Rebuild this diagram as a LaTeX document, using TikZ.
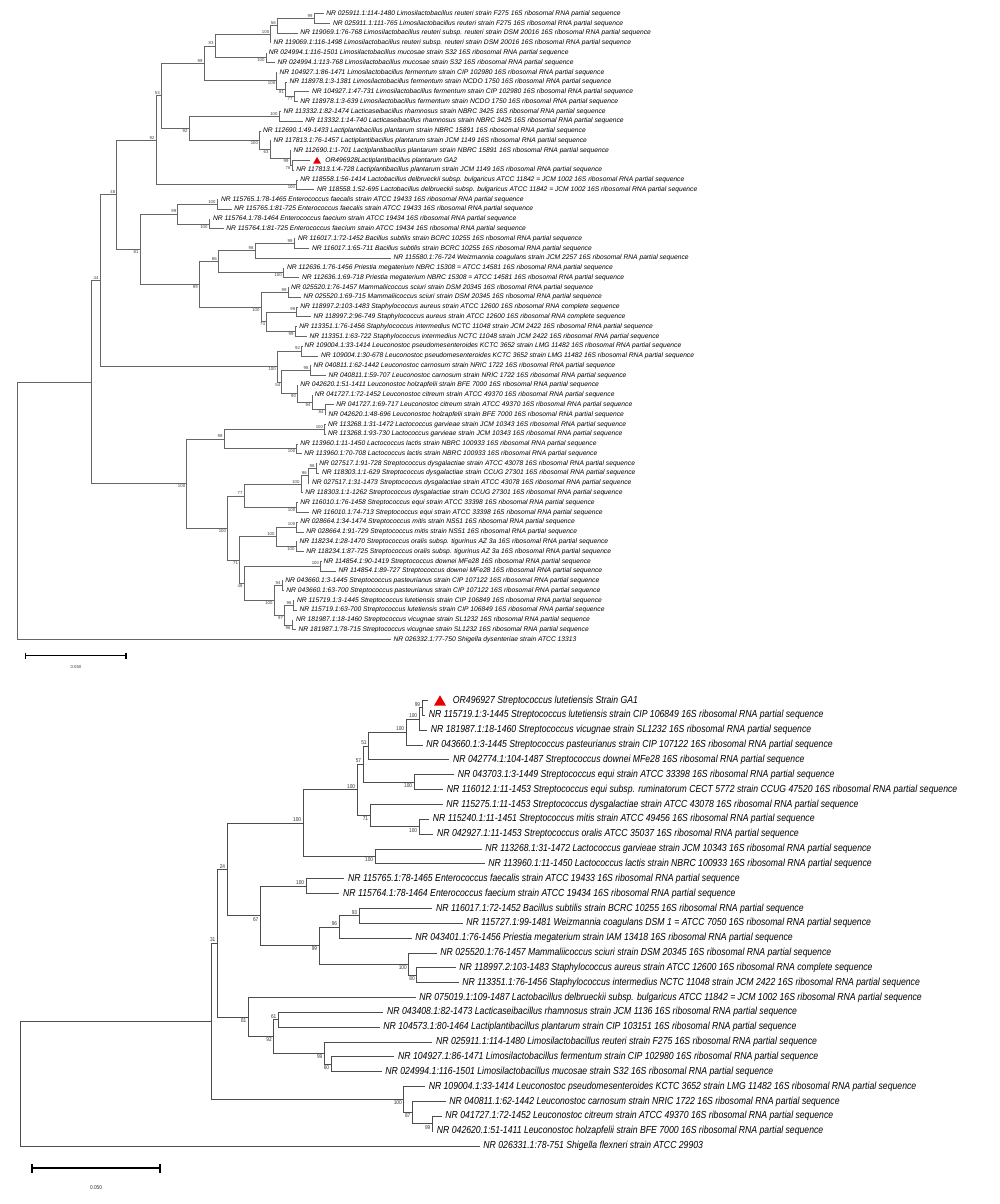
\documentclass[tikz,border=0pt]{standalone}
\usepackage{fontspec}
\newfontfamily\topfont{Liberation Sans}
\newfontfamily\botfont[FakeStretch=0.85]{Liberation Sans}
\usetikzlibrary{calc,shapes.geometric}
\definecolor{trired}{RGB}{230,0,0}
% junction: name, x, first child, last child (y = middle of the two)
\newcommand{\junc}[4]{\path let \p1=(#3), \p2=(#4) in coordinate (#1) at (#2pt,{(\y1+\y2)/2});}
\newcommand{\pseq}{16S ribosomal RNA partial sequence}
\begin{document}
\begin{tikzpicture}[x=1pt,y=-1pt]
  \tikzstyle{every edge}=[draw,to path={|- (\tikztotarget)}]
  \tikzstyle{tl}=[anchor=west,inner xsep=2.5pt,inner ysep=0pt,text=black,font=\topfont\itshape\fontsize{6.7}{7}\selectfont]
  \tikzstyle{bl}=[anchor=west,inner xsep=3.5pt,inner ysep=0pt,text=black,font=\botfont\itshape\fontsize{10.2}{11}\selectfont]
  \tikzstyle{tba}=[anchor=south east,inner sep=0pt,xshift=-1.2pt,yshift=0.8pt,text=black!75,font=\topfont\fontsize{4.3}{4.5}\selectfont]
  \tikzstyle{tbb}=[anchor=north east,inner sep=0pt,xshift=-1.2pt,yshift=-0.8pt,text=black!75,font=\topfont\fontsize{4.3}{4.5}\selectfont]
  \tikzstyle{bba}=[anchor=south east,inner sep=0pt,xshift=-1.5pt,yshift=1pt,text=black!80,font=\botfont\fontsize{5.6}{6}\selectfont]
  \tikzstyle{bbb}=[anchor=north east,inner sep=0pt,xshift=-1.5pt,yshift=-1pt,text=black!80,font=\botfont\fontsize{5.6}{6}\selectfont]
  \tikzstyle{tri}=[regular polygon,regular polygon sides=3,fill=trired,inner sep=0pt]

  \fill[white] (0,0) rectangle (1000,1204);
  \useasboundingbox (0,0) rectangle (1000,1204);

  % ---------------- upper tree ----------------
  \begin{scope}[color=black!60,line width=0.7pt]
  \node[tl] (t1) at (323.5,13.6) {NR 025911.1:114-1480 Limosilactobacillus reuteri strain F275 \pseq};
  \node[tl] (t2) at (330.2,23.38) {NR 025911.1:111-765 Limosilactobacillus reuteri strain F275 \pseq};
  \node[tl] (t3) at (297.5,33.16) {NR 119069.1:76-768 Limosilactobacillus reuteri subsp. reuteri strain DSM 20016 \pseq};
  \node[tl] (t4) at (270.7,42.94) {NR 119069.1:116-1498 Limosilactobacillus reuteri subsp. reuteri strain DSM 20016 \pseq};
  \node[tl] (t5) at (266,52.72) {NR 024994.1:116-1501 Limosilactobacillus mucosae strain S32 \pseq};
  \node[tl] (t6) at (274.8,62.5) {NR 024994.1:113-768 Limosilactobacillus mucosae strain S32 \pseq};
  \node[tl] (t7) at (276.7,72.28) {NR 104927.1:86-1471 Limosilactobacillus fermentum strain CIP 102980 \pseq};
  \node[tl] (t8) at (286.8,82.06) {NR 118978.1:3-1381 Limosilactobacillus fermentum strain NCDO 1750 \pseq};
  \node[tl] (t9) at (309.2,91.84) {NR 104927.1:47-731 Limosilactobacillus fermentum strain CIP 102980 \pseq};
  \node[tl] (t10) at (297.5,101.62) {NR 118978.1:3-639 Limosilactobacillus fermentum strain NCDO 1750 \pseq};
  \node[tl] (t11) at (280.8,111.4) {NR 113332.1:82-1474 Lacticaseibacillus rhamnosus strain NBRC 3425 \pseq};
  \node[tl] (t12) at (302.5,121.18) {NR 113332.1:14-740 Lacticaseibacillus rhamnosus strain NBRC 3425 \pseq};
  \node[tl] (t13) at (260.2,130.96) {NR 112690.1:49-1433 Lactiplantibacillus plantarum strain NBRC 15891 \pseq};
  \node[tl] (t14) at (270.8,140.74) {NR 117813.1:76-1457 Lactiplantibacillus plantarum strain JCM 1149 \pseq};
  \node[tl] (t15) at (290.8,150.52) {NR 112690.1:1-701 Lactiplantibacillus plantarum strain NBRC 15891 \pseq};
  \coordinate (t16) at (310,160.3);
  \node[tri,minimum size=9pt] (tri16) at (317,161.4) {};
  \node[tl] (t16txt) at (322.5,160.3) {OR496928Lactiplantibacillus plantarum GA2};
  \node[tl] (t17) at (293.5,170.08) {NR 117813.1:4-728 Lactiplantibacillus plantarum strain JCM 1149 \pseq};
  \node[tl] (t18) at (297.5,179.86) {NR 118558.1:56-1414 Lactobacillus delbrueckii subsp. bulgaricus ATCC 11842 = JCM 1002 \pseq};
  \node[tl] (t19) at (314.2,189.64) {NR 118558.1:52-695 Lactobacillus delbrueckii subsp. bulgaricus ATCC 11842 = JCM 1002 \pseq};
  \node[tl] (t20) at (218.2,199.42) {NR 115765.1:78-1465 Enterococcus faecalis strain ATCC 19433 \pseq};
  \node[tl] (t21) at (231.5,209.2) {NR 115765.1:81-725 Enterococcus faecalis strain ATCC 19433 \pseq};
  \node[tl] (t22) at (210.2,218.98) {NR 115764.1:78-1464 Enterococcus faecium strain ATCC 19434 \pseq};
  \node[tl] (t23) at (223.5,228.76) {NR 115764.1:81-725 Enterococcus faecium strain ATCC 19434 \pseq};
  \node[tl] (t24) at (295.2,238.54) {NR 116017.1:72-1452 Bacillus subtilis strain BCRC 10255 \pseq};
  \node[tl] (t25) at (309.2,248.32) {NR 116017.1:65-711 Bacillus subtilis strain BCRC 10255 \pseq};
  \node[tl] (t26) at (390.8,258.1) {NR 115580.1:76-724 Weizmannia coagulans strain JCM 2257 \pseq};
  \node[tl] (t27) at (284.2,267.88) {NR 112636.1:76-1456 Priestia megaterium NBRC 15308 = ATCC 14581 \pseq};
  \node[tl] (t28) at (299.2,277.66) {NR 112636.1:69-718 Priestia megaterium NBRC 15308 = ATCC 14581 \pseq};
  \node[tl] (t29) at (288.3,287.44) {NR 025520.1:76-1457 Mammaliicoccus sciuri strain DSM 20345 \pseq};
  \node[tl] (t30) at (300.8,297.22) {NR 025520.1:69-715 Mammaliicoccus sciuri strain DSM 20345 \pseq};
  \node[tl] (t31) at (297.5,307) {NR 118997.2:103-1483 Staphylococcus aureus strain ATCC 12600 16S ribosomal RNA complete sequence};
  \node[tl] (t32) at (310.8,316.78) {NR 118997.2:96-749 Staphylococcus aureus strain ATCC 12600 16S ribosomal RNA complete sequence};
  \node[tl] (t33) at (296.5,326.56) {NR 113351.1:76-1456 Staphylococcus intermedius NCTC 11048 strain JCM 2422 \pseq};
  \node[tl] (t34) at (306.8,336.34) {NR 113351.1:63-722 Staphylococcus intermedius NCTC 11048 strain JCM 2422 \pseq};
  \node[tl] (t35) at (301.7,346.12) {NR 109004.1:33-1414 Leuconostoc pseudomesenteroides KCTC 3652 strain LMG 11482 \pseq};
  \node[tl] (t36) at (318.2,355.9) {NR 109004.1:30-678 Leuconostoc pseudomesenteroides KCTC 3652 strain LMG 11482 \pseq};
  \node[tl] (t37) at (310.8,365.68) {NR 040811.1:62-1442 Leuconostoc carnosum strain NRIC 1722 \pseq};
  \node[tl] (t38) at (325.8,375.46) {NR 040811.1:59-707 Leuconostoc carnosum strain NRIC 1722 \pseq};
  \node[tl] (t39) at (297.5,385.24) {NR 042620.1:51-1411 Leuconostoc holzapfelii strain BFE 7000 \pseq};
  \node[tl] (t40) at (312,395.02) {NR 041727.1:72-1452 Leuconostoc citreum strain ATCC 49370 \pseq};
  \node[tl] (t41) at (333.5,404.8) {NR 041727.1:69-717 Leuconostoc citreum strain ATCC 49370 \pseq};
  \node[tl] (t42) at (325.8,414.58) {NR 042620.1:48-696 Leuconostoc holzapfelii strain BFE 7000 \pseq};
  \node[tl] (t43) at (325.2,424.36) {NR 113268.1:31-1472 Lactococcus garvieae strain JCM 10343 \pseq};
  \node[tl] (t44) at (325.2,434.14) {NR 113268.1:93-730 Lactococcus garvieae strain JCM 10343 \pseq};
  \node[tl] (t45) at (297.5,443.92) {NR 113960.1:11-1450 Lactococcus lactis strain NBRC 100933 \pseq};
  \node[tl] (t46) at (301.5,453.7) {NR 113960.1:70-708 Lactococcus lactis strain NBRC 100933 \pseq};
  \node[tl] (t47) at (316.5,463.48) {NR 027517.1:91-728 Streptococcus dysgalactiae strain ATCC 43078 \pseq};
  \node[tl] (t48) at (319.2,473.26) {NR 118303.1:1-629 Streptococcus dysgalactiae strain CCUG 27301 \pseq};
  \node[tl] (t49) at (309.2,483.04) {NR 027517.1:31-1473 Streptococcus dysgalactiae strain ATCC 43078 \pseq};
  \node[tl] (t50) at (302.5,492.82) {NR 118303.1:1-1262 Streptococcus dysgalactiae strain CCUG 27301 \pseq};
  \node[tl] (t51) at (297.5,502.6) {NR 116010.1:76-1458 Streptococcus equi strain ATCC 33398 \pseq};
  \node[tl] (t52) at (309.2,512.38) {NR 116010.1:74-713 Streptococcus equi strain ATCC 33398 \pseq};
  \node[tl] (t53) at (297.5,522.16) {NR 028664.1:34-1474 Streptococcus mitis strain NS51 \pseq};
  \node[tl] (t54) at (303.5,531.94) {NR 028664.1:91-729 Streptococcus mitis strain NS51 \pseq};
  \node[tl] (t55) at (296.8,541.72) {NR 118234.1:28-1470 Streptococcus oralis subsp. tigurinus AZ 3a \pseq};
  \node[tl] (t56) at (303.5,551.5) {NR 118234.1:87-725 Streptococcus oralis subsp. tigurinus AZ 3a \pseq};
  \node[tl] (t57) at (320.8,561.28) {NR 114854.1:90-1419 Streptococcus downei MFe28 \pseq};
  \node[tl] (t58) at (335.8,571.06) {NR 114854.1:89-727 Streptococcus downei MFe28 \pseq};
  \node[tl] (t59) at (282.5,580.84) {NR 043660.1:3-1445 Streptococcus pasteurianus strain CIP 107122 \pseq};
  \node[tl] (t60) at (283.5,590.62) {NR 043660.1:63-700 Streptococcus pasteurianus strain CIP 107122 \pseq};
  \node[tl] (t61) at (294.2,600.4) {NR 115719.1:3-1445 Streptococcus lutetiensis strain CIP 106849 \pseq};
  \node[tl] (t62) at (296.8,610.18) {NR 115719.1:63-700 Streptococcus lutetiensis strain CIP 106849 \pseq};
  \node[tl] (t63) at (293.2,619.96) {NR 181987.1:18-1460 Streptococcus vicugnae strain SL1232 \pseq};
  \node[tl] (t64) at (295.8,629.74) {NR 181987.1:78-715 Streptococcus vicugnae strain SL1232 \pseq};
  \node[tl] (t65) at (390.8,639.52) {NR 026332.1:77-750 Shigella dysenteriae strain ATCC 13313};

  % inner nodes
  \junc{N14}{314}{t1}{t2}
  \junc{N13}{277.3}{N14}{t3}
  \junc{N11}{270.7}{N13}{t4}
  \junc{N12}{266}{t5}{t6}
  \junc{N9}{215}{N11}{N12}
  \junc{N16}{294}{t9}{t10}
  \junc{N15}{285.5}{t8}{N16}
  \junc{N10}{276.7}{t7}{N15}
  \junc{N7}{204}{N9}{N10}
  \junc{N17}{279}{t11}{t12}
  \junc{N21}{292}{t16}{t17}
  \junc{N20}{290}{t15}{N21}
  \junc{N19}{270}{t14}{N20}
  \junc{N18}{259.5}{t13}{N19}
  \junc{N8}{189}{N17}{N18}
  \junc{N6}{161.3}{N7}{N8}
  \junc{Ndel}{296.5}{t18}{t19}
  \junc{N4}{156}{N6}{Ndel}
  \junc{N24}{217}{t20}{t21}
  \junc{N25}{209}{t22}{t23}
  \junc{N22}{177.7}{N24}{N25}
  \junc{N29}{294}{t24}{t25}
  \junc{N28}{255}{N29}{t26}
  \junc{N27}{283.3}{t27}{t28}
  \junc{N26}{218.3}{N28}{N27}
  \junc{N31}{288}{t29}{t30}
  \junc{N32}{296.7}{t31}{t32}
  \junc{N33}{295}{t33}{t34}
  \junc{N35}{266.5}{N32}{N33}
  \junc{N34}{261}{N31}{N35}
  \junc{N23}{199.3}{N26}{N34}
  \junc{N5}{140}{N22}{N23}
  \junc{N3}{116.7}{N4}{N5}
  \junc{N36}{301.5}{t35}{t36}
  \junc{N38}{310}{t37}{t38}
  \junc{N42}{325}{t41}{t42}
  \junc{N41}{312}{t40}{N42}
  \junc{N40}{297.5}{t39}{N41}
  \junc{Nb}{281.7}{N38}{N40}
  \junc{Nleu}{277.3}{N36}{Nb}
  \junc{N2}{100}{N3}{Nleu}
  \junc{Ngarv}{324.5}{t43}{t44}
  \junc{Nlact}{296.7}{t45}{t46}
  \junc{NLac}{224}{Ngarv}{Nlact}
  \junc{N48}{316}{t47}{t48}
  \junc{N47}{308.3}{N48}{t49}
  \junc{N46}{301}{N47}{t50}
  \junc{Nequi}{296.7}{t51}{t52}
  \junc{N44}{244}{N46}{Nequi}
  \junc{Nmitis}{296.7}{t53}{t54}
  \junc{Noral}{296}{t55}{t56}
  \junc{N49}{276}{Nmitis}{Noral}
  \junc{Ndown}{320.5}{t57}{t58}
  \junc{Npast}{282}{t59}{t60}
  \junc{Nlut}{293}{t61}{t62}
  \junc{Nvic}{292}{t63}{t64}
  \junc{N50}{284.5}{Nlut}{Nvic}
  \junc{N51}{274}{Npast}{N50}
  \junc{N52}{244}{Ndown}{N51}
  \junc{N45}{239.5}{N49}{N52}
  \junc{N43}{227.5}{N44}{N45}
  \junc{Nstr}{186.7}{NLac}{N43}
  \junc{N1}{91.7}{N2}{Nstr}
  \junc{R0}{17.3}{N1}{t65}

  % branches
  \path (R0) edge (N1) edge (t65);
  \path (N1) edge (N2) edge (Nstr);
  \path (N2) edge (N3) edge (Nleu);
  \path (N3) edge (N4) edge (N5);
  \path (N4) edge (N6) edge (Ndel);
  \path (N6) edge (N7) edge (N8);
  \path (N7) edge (N9) edge (N10);
  \path (N9) edge (N11) edge (N12);
  \path (N11) edge (N13) edge (t4);
  \path (N13) edge (N14) edge (t3);
  \path (N14) edge (t1) edge (t2);
  \path (N12) edge (t5) edge (t6);
  \path (N10) edge (t7) edge (N15);
  \path (N15) edge (t8) edge (N16);
  \path (N16) edge (t9) edge (t10);
  \path (N8) edge (N17) edge (N18);
  \path (N17) edge (t11) edge (t12);
  \path (N18) edge (t13) edge (N19);
  \path (N19) edge (t14) edge (N20);
  \path (N20) edge (t15) edge (N21);
  \path (N21) edge (t16) edge (t17);
  \path (Ndel) edge (t18) edge (t19);
  \path (N5) edge (N22) edge (N23);
  \path (N22) edge (N24) edge (N25);
  \path (N24) edge (t20) edge (t21);
  \path (N25) edge (t22) edge (t23);
  \path (N23) edge (N26) edge (N34);
  \path (N26) edge (N28) edge (N27);
  \path (N28) edge (N29) edge (t26);
  \path (N29) edge (t24) edge (t25);
  \path (N27) edge (t27) edge (t28);
  \path (N34) edge (N31) edge (N35);
  \path (N31) edge (t29) edge (t30);
  \path (N35) edge (N32) edge (N33);
  \path (N32) edge (t31) edge (t32);
  \path (N33) edge (t33) edge (t34);
  \path (Nleu) edge (N36) edge (Nb);
  \path (N36) edge (t35) edge (t36);
  \path (Nb) edge (N38) edge (N40);
  \path (N38) edge (t37) edge (t38);
  \path (N40) edge (t39) edge (N41);
  \path (N41) edge (t40) edge (N42);
  \path (N42) edge (t41) edge (t42);
  \path (Nstr) edge (NLac) edge (N43);
  \path (NLac) edge (Ngarv) edge (Nlact);
  \path (Ngarv) edge (t43) edge (t44);
  \path (Nlact) edge (t45) edge (t46);
  \path (N43) edge (N44) edge (N45);
  \path (N44) edge (N46) edge (Nequi);
  \path (N46) edge (N47) edge (t50);
  \path (N47) edge (N48) edge (t49);
  \path (N48) edge (t47) edge (t48);
  \path (Nequi) edge (t51) edge (t52);
  \path (N45) edge (N49) edge (N52);
  \path (N49) edge (Nmitis) edge (Noral);
  \path (Nmitis) edge (t53) edge (t54);
  \path (Noral) edge (t55) edge (t56);
  \path (N52) edge (Ndown) edge (N51);
  \path (Ndown) edge (t57) edge (t58);
  \path (N51) edge (Npast) edge (N50);
  \path (Npast) edge (t59) edge (t60);
  \path (N50) edge (Nlut) edge (Nvic);
  \path (Nlut) edge (t61) edge (t62);
  \path (Nvic) edge (t63) edge (t64);

  % bootstrap values
  \node[tba] (lN2) at (N2) {44};
  \node[tba] (lN3) at (N3) {48};
  \node[tba] (lN4) at (N4) {92};
  \node[tbb] (lN5) at (N5) {81};
  \node[tba] (lN6) at (N6) {53};
  \node[tba] (lN7) at (N7) {99};
  \node[tbb] (lN8) at (N8) {92};
  \node[tba] (lN9) at (N9) {83};
  \node[tbb] (lN10) at (N10) {100};
  \node[tba] (lN11) at (N11) {100};
  \node[tbb] (lN12) at (N12) {100};
  \node[tba] (lN13) at (N13) {56};
  \node[tba] (lN14) at (N14) {99};
  \node[tbb] (lN15) at (N15) {81};
  \node[tbb] (lN16) at (N16) {77};
  \node[tba] (lN17) at (N17) {100};
  \node[tbb] (lN18) at (N18) {100};
  \node[tbb] (lN19) at (N19) {63};
  \node[tbb] (lN20) at (N20) {99};
  \node[tbb] (lN21) at (N21) {76};
  \node[tbb] (lNdel) at (Ndel) {100};
  \node[tba] (lN22) at (N22) {99};
  \node[tba] (lN24) at (N24) {100};
  \node[tbb] (lN25) at (N25) {100};
  \node[tbb] (lN23) at (N23) {99};
  \node[tba] (lN26) at (N26) {86};
  \node[tba] (lN28) at (N28) {98};
  \node[tba] (lN29) at (N29) {99};
  \node[tbb] (lN27) at (N27) {100};
  \node[tbb] (lN34) at (N34) {100};
  \node[tba] (lN31) at (N31) {99};
  \node[tbb] (lN35) at (N35) {74};
  \node[tba] (lN32) at (N32) {99};
  \node[tbb] (lN33) at (N33) {99};
  \node[tbb] (lNleu) at (Nleu) {100};
  \node[tba] (lN36) at (N36) {92};
  \node[tbb] (lNb) at (Nb) {54};
  \node[tba] (lN38) at (N38) {98};
  \node[tbb] (lN40) at (N40) {90};
  \node[tbb] (lN41) at (N41) {94};
  \node[tbb] (lN42) at (N42) {84};
  \node[tbb] (lNstr) at (Nstr) {100};
  \node[tba] (lNLac) at (NLac) {98};
  \node[tba] (lNgarv) at (Ngarv) {100};
  \node[tbb] (lNlact) at (Nlact) {100};
  \node[tbb] (lN43) at (N43) {100};
  \node[tba] (lN44) at (N44) {77};
  \node[tba] (lN46) at (N46) {100};
  \node[tba] (lN47) at (N47) {96};
  \node[tba] (lN48) at (N48) {98};
  \node[tbb] (lNequi) at (Nequi) {100};
  \node[tbb] (lN45) at (N45) {71};
  \node[tba] (lN49) at (N49) {100};
  \node[tba] (lNmitis) at (Nmitis) {100};
  \node[tbb] (lNoral) at (Noral) {100};
  \node[tbb] (lN52) at (N52) {48};
  \node[tba] (lNdown) at (Ndown) {100};
  \node[tbb] (lN51) at (N51) {100};
  \node[tba] (lNpast) at (Npast) {94};
  \node[tbb] (lN50) at (N50) {97};
  \node[tba] (lNlut) at (Nlut) {96};
  \node[tbb] (lNvic) at (Nvic) {96};
  \end{scope}

  % scale bar, upper tree
  \coordinate (sa1) at (25.7,655.7);
  \coordinate (sa2) at (126,655.7);
  \draw[line width=1.4pt] (sa1) -- (sa2);
  \draw[line width=1.2pt] ([yshift=3pt]sa1) -- ([yshift=-3pt]sa1);
  \draw[line width=1.2pt] ([yshift=3pt]sa2) -- ([yshift=-3pt]sa2);
  \node[font=\topfont\fontsize{4.3}{4.5}\selectfont,text=black!75] (sal) at (76,667) {0.050};

  % ---------------- lower tree ----------------
  \begin{scope}[color=black!70,line width=0.9pt]
  \coordinate (b1) at (428,700.5);
  \node[tri,minimum size=13.9pt] (tri1) at (440,702.2) {};
  \node[bl] (b1txt) at (449,700.5) {OR496927 Streptococcus lutetiensis Strain GA1};
  \node[bl] (b2) at (425,715.35) {NR 115719.1:3-1445 Streptococcus lutetiensis strain CIP 106849 \pseq};
  \node[bl] (b3) at (427,730.2) {NR 181987.1:18-1460 Streptococcus vicugnae strain SL1232 \pseq};
  \node[bl] (b4) at (422.5,745.05) {NR 043660.1:3-1445 Streptococcus pasteurianus strain CIP 107122 \pseq};
  \node[bl] (b5) at (449.2,759.9) {NR 042774.1:104-1487 Streptococcus downei MFe28 \pseq};
  \node[bl] (b6) at (453.8,774.75) {NR 043703.1:3-1449 Streptococcus equi strain ATCC 33398 \pseq};
  \node[bl] (b7) at (443,789.6) {NR 116012.1:11-1453 Streptococcus equi subsp. ruminatorum CECT 5772 strain CCUG 47520 \pseq};
  \node[bl] (b8) at (442.5,804.45) {NR 115275.1:11-1453 Streptococcus dysgalactiae strain ATCC 43078 \pseq};
  \node[bl] (b9) at (429,819.3) {NR 115240.1:11-1451 Streptococcus mitis strain ATCC 49456 \pseq};
  \node[bl] (b10) at (433.2,834.15) {NR 042927.1:11-1453 Streptococcus oralis ATCC 35037 \pseq};
  \node[bl] (b11) at (481.5,849) {NR 113268.1:31-1472 Lactococcus garvieae strain JCM 10343 \pseq};
  \node[bl] (b12) at (484.5,863.85) {NR 113960.1:11-1450 Lactococcus lactis strain NBRC 100933 \pseq};
  \node[bl] (b13) at (344.2,878.7) {NR 115765.1:78-1465 Enterococcus faecalis strain ATCC 19433 \pseq};
  \node[bl] (b14) at (339.2,893.55) {NR 115764.1:78-1464 Enterococcus faecium strain ATCC 19434 \pseq};
  \node[bl] (b15) at (432.2,908.4) {NR 116017.1:72-1452 Bacillus subtilis strain BCRC 10255 \pseq};
  \node[bl] (b16) at (462.5,923.25) {NR 115727.1:99-1481 Weizmannia coagulans DSM 1 = ATCC 7050 \pseq};
  \node[bl] (b17) at (411.5,938.1) {NR 043401.1:76-1456 Priestia megaterium strain IAM 13418 \pseq};
  \node[bl] (b18) at (436.5,952.95) {NR 025520.1:76-1457 Mammaliicoccus sciuri strain DSM 20345 \pseq};
  \node[bl] (b19) at (455.5,967.8) {NR 118997.2:103-1483 Staphylococcus aureus strain ATCC 12600 16S ribosomal RNA complete sequence};
  \node[bl] (b20) at (458.5,982.65) {NR 113351.1:76-1456 Staphylococcus intermedius NCTC 11048 strain JCM 2422 \pseq};
  \node[bl] (b21) at (415.5,997.5) {NR 075019.1:109-1487 Lactobacillus delbrueckii subsp. bulgaricus ATCC 11842 = JCM 1002 \pseq};
  \node[bl] (b22) at (383.2,1012.35) {NR 043408.1:82-1473 Lacticaseibacillus rhamnosus strain JCM 1136 \pseq};
  \node[bl] (b23) at (379.5,1027.2) {NR 104573.1:80-1464 Lactiplantibacillus plantarum strain CIP 103151 \pseq};
  \node[bl] (b24) at (432.2,1042.05) {NR 025911.1:114-1480 Limosilactobacillus reuteri strain F275 \pseq};
  \node[bl] (b25) at (394.2,1056.9) {NR 104927.1:86-1471 Limosilactobacillus fermentum strain CIP 102980 \pseq};
  \node[bl] (b26) at (381.5,1071.75) {NR 024994.1:116-1501 Limosilactobacillus mucosae strain S32 \pseq};
  \node[bl] (b27) at (424.8,1086.6) {NR 109004.1:33-1414 Leuconostoc pseudomesenteroides KCTC 3652 strain LMG 11482 \pseq};
  \node[bl] (b28) at (445.5,1101.45) {NR 040811.1:62-1442 Leuconostoc carnosum strain NRIC 1722 \pseq};
  \node[bl] (b29) at (441.5,1116.3) {NR 041727.1:72-1452 Leuconostoc citreum strain ATCC 49370 \pseq};
  \node[bl] (b30) at (433,1131.15) {NR 042620.1:51-1411 Leuconostoc holzapfelii strain BFE 7000 \pseq};
  \node[bl] (b31) at (479.5,1146) {NR 026331.1:78-751 Shigella flexneri strain ATCC 29903};

  \junc{T}{422}{b1}{b2}
  \junc{U}{419}{T}{b3}
  \junc{V}{406}{U}{b4}
  \junc{W}{368.5}{V}{b5}
  \junc{X}{414}{b6}{b7}
  \junc{Y}{363}{W}{X}
  \junc{Z}{419}{b9}{b10}
  \junc{AA}{370}{b8}{Z}
  \junc{G}{357}{Y}{AA}
  \junc{Lc}{375}{b11}{b12}
  \junc{E}{303}{G}{Lc}
  \junc{Ent}{306}{b13}{b14}
  \junc{K}{359}{b15}{b16}
  \junc{I}{339}{K}{b17}
  \junc{J2}{416.7}{b19}{b20}
  \junc{J}{408.7}{b18}{J2}
  \junc{H}{319}{I}{J}
  \junc{F}{260.3}{Ent}{H}
  \junc{C}{227}{E}{F}
  \junc{Nn}{278.3}{b22}{b23}
  \junc{Q}{331}{b25}{b26}
  \junc{P}{324.3}{b24}{Q}
  \junc{M}{273.7}{Nn}{P}
  \junc{D}{248.3}{b21}{M}
  \junc{B}{217.3}{C}{D}
  \junc{S}{432.3}{b29}{b30}
  \junc{R}{412.3}{b28}{S}
  \junc{L}{403.7}{b27}{R}
  \junc{A}{211.3}{B}{L}
  \junc{R1}{20.7}{A}{b31}

  \path (R1) edge (A) edge (b31);
  \path (A) edge (B) edge (L);
  \path (B) edge (C) edge (D);
  \path (C) edge (E) edge (F);
  \path (E) edge (G) edge (Lc);
  \path (G) edge (Y) edge (AA);
  \path (Y) edge (W) edge (X);
  \path (W) edge (V) edge (b5);
  \path (V) edge (U) edge (b4);
  \path (U) edge (T) edge (b3);
  \path (T) edge (b1) edge (b2);
  \path (X) edge (b6) edge (b7);
  \path (AA) edge (b8) edge (Z);
  \path (Z) edge (b9) edge (b10);
  \path (Lc) edge (b11) edge (b12);
  \path (F) edge (Ent) edge (H);
  \path (Ent) edge (b13) edge (b14);
  \path (H) edge (I) edge (J);
  \path (I) edge (K) edge (b17);
  \path (K) edge (b15) edge (b16);
  \path (J) edge (b18) edge (J2);
  \path (J2) edge (b19) edge (b20);
  \path (D) edge (b21) edge (M);
  \path (M) edge (Nn) edge (P);
  \path (Nn) edge (b22) edge (b23);
  \path (P) edge (b24) edge (Q);
  \path (Q) edge (b25) edge (b26);
  \path (L) edge (b27) edge (R);
  \path (R) edge (b28) edge (S);
  \path (S) edge (b29) edge (b30);

  \node[bba] (lT) at (T) {99};
  \node[bba] (lU) at (U) {100};
  \node[bba] (lV) at (V) {100};
  \node[bba] (lW) at (W) {51};
  \node[bbb] (lX) at (X) {100};
  \node[bba] (lY) at (Y) {57};
  \node[bbb] (lZ) at (Z) {100};
  \node[bbb] (lAA) at (AA) {71};
  \node[bba] (lG) at (G) {100};
  \node[bbb] (lLc) at (Lc) {100};
  \node[bba] (lE) at (E) {100};
  \node[bba] (lEnt) at (Ent) {100};
  \node[bba] (lK) at (K) {93};
  \node[bba] (lI) at (I) {96};
  \node[bbb] (lJ2) at (J2) {80};
  \node[bbb] (lJ) at (J) {100};
  \node[bbb] (lH) at (H) {99};
  \node[bbb] (lF) at (F) {67};
  \node[bba] (lC) at (C) {24};
  \node[bba] (lNn) at (Nn) {61};
  \node[bbb] (lQ) at (Q) {60};
  \node[bbb] (lP) at (P) {99};
  \node[bbb] (lM) at (M) {92};
  \node[bbb] (lD) at (D) {81};
  \node[bba] (lB) at (B) {31};
  \node[bbb] (lS) at (S) {99};
  \node[bbb] (lR) at (R) {87};
  \node[bbb] (lL) at (L) {100};
  \end{scope}

  % scale bar, lower tree
  \coordinate (sb1) at (32,1168);
  \coordinate (sb2) at (160,1168);
  \draw[line width=2.4pt] (sb1) -- (sb2);
  \draw[line width=2pt] ([yshift=4.5pt]sb1) -- ([yshift=-4.5pt]sb1);
  \draw[line width=2pt] ([yshift=4.5pt]sb2) -- ([yshift=-4.5pt]sb2);
  \node[font=\botfont\fontsize{5.6}{6}\selectfont,text=black!80] (sbl) at (96,1188) {0.050};
\end{tikzpicture}
\end{document}
